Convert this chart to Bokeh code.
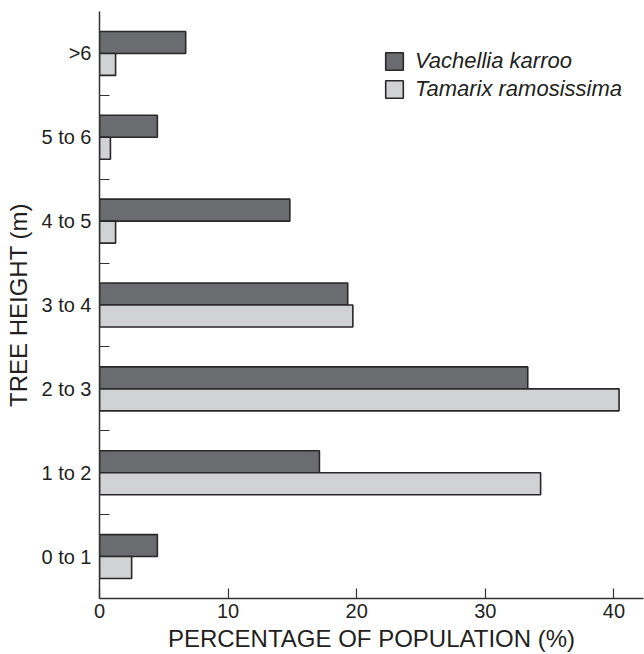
from bokeh.plotting import figure
from bokeh.models import ColumnDataSource, FixedTicker, Range1d, Legend, LegendItem
from bokeh.transform import dodge
from bokeh.embed import file_html
from bokeh.resources import INLINE

categories = ["0 to 1", "1 to 2", "2 to 3", "3 to 4", "4 to 5", "5 to 6", ">6"]
vachellia = [4.5, 17.1, 33.3, 19.3, 14.8, 4.5, 6.7]
tamarix = [2.5, 34.3, 40.4, 19.7, 1.25, 0.85, 1.25]
x_ticks = [0, 10, 20, 30, 40]
x_title = "PERCENTAGE OF POPULATION (%)"
y_title = "TREE HEIGHT (m)"

ypos = [i + 0.5 for i in range(len(categories))]
src = ColumnDataSource(dict(y=ypos, v=vachellia, t=tamarix, cat=categories))

FONT = "Liberation Sans"
TXT = "#231f20"
DARK = "#6b6c6f"
LIGHT = "#d1d2d4"
EDGE = "#2a2728"

xr = Range1d(0, 42.3)
yr = Range1d(0, len(categories))
p = figure(width=644, height=654, output_backend="svg", toolbar_location=None,
           x_range=xr, y_range=yr,
           min_border_left=99, min_border_top=11, min_border_right=1, min_border_bottom=56)
p.outline_line_color = None
p.xgrid.visible = False
p.ygrid.visible = False

bh = 0.262
r1 = p.hbar(y=dodge("y", bh / 2, range=p.y_range), left=0, right="v", height=bh, source=src,
            fill_color=DARK, line_color=EDGE, line_width=1.6)
r2 = p.hbar(y=dodge("y", -bh / 2, range=p.y_range), left=0, right="t", height=bh, source=src,
            fill_color=LIGHT, line_color=EDGE, line_width=1.6)

# x axis
xa = p.xaxis[0]
xa.ticker = FixedTicker(ticks=x_ticks)
xa.axis_label = x_title
xa.major_tick_in = 10
xa.major_tick_out = 0
xa.major_label_standoff = 5

# y axis
ya = p.yaxis[0]
ya.ticker = FixedTicker(ticks=ypos, minor_ticks=list(range(1, len(categories))))
ya.major_label_overrides = {y: c for y, c in zip(ypos, categories)}
ya.axis_label = y_title
ya.minor_tick_in = 10
ya.minor_tick_out = 0
ya.major_label_standoff = 2

for ax in (xa, ya):
    ax.axis_line_color = "#333333"
    ax.axis_line_width = 1.5
    ax.major_tick_line_color = "#333333" if ax is xa else None
    ax.minor_tick_line_color = "#333333" if ax is ya else None
    ax.major_tick_line_width = 1.2
    ax.minor_tick_line_width = 1.2
    ax.major_label_text_font = FONT
    ax.major_label_text_font_size = "20px"
    ax.major_label_text_color = TXT
    ax.axis_label_text_font = FONT
    ax.axis_label_text_font_size = "24px"
    ax.axis_label_text_font_style = "normal"
    ax.axis_label_text_color = TXT
    ax.axis_label_text_line_height = 1.0
    ax.major_label_text_line_height = 1.0
xa.axis_label_standoff = 4
ya.axis_label_standoff = 6

legend = Legend(items=[LegendItem(label="Vachellia karroo", renderers=[r1]),
                       LegendItem(label="Tamarix ramosissima", renderers=[r2])],
                location=(284, 496), orientation="vertical")
legend.border_line_color = None
legend.background_fill_alpha = 0
legend.padding = 0
legend.margin = 0
legend.spacing = 2
legend.glyph_width = 22
legend.glyph_height = 22
legend.label_standoff = 10
legend.label_text_font = FONT
legend.label_text_font_size = "22px"
legend.label_text_font_style = "italic"
legend.label_text_color = TXT
legend.label_height = 22
p.add_layout(legend)

open("out.html", "w").write(file_html(p, INLINE))
